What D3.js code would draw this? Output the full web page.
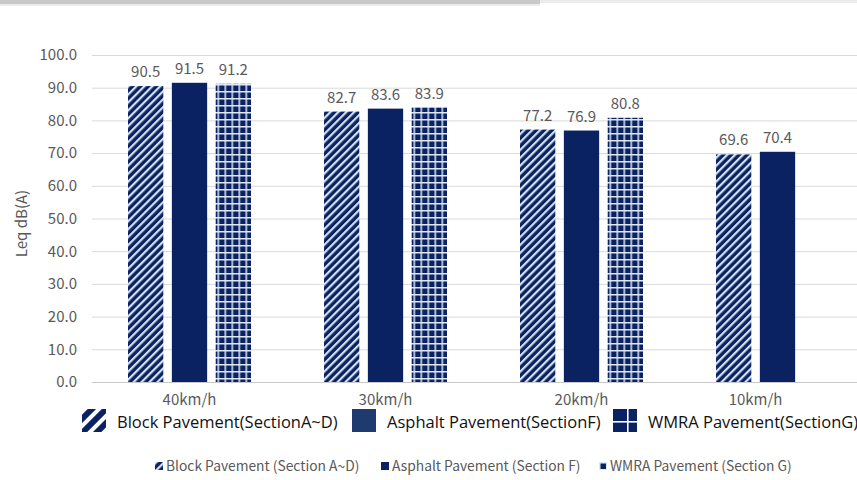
<!DOCTYPE html>
<html>
<head>
<meta charset="utf-8">
<script src="https://cdn.jsdelivr.net/npm/d3@7"></script>
<style>
  html, body { margin: 0; padding: 0; background: #fff; }
  svg { display: block; }
</style>
</head>
<body>
<svg id="chart" width="857" height="480"></svg>
<script>
// Traffic noise level by driving speed and pavement type
const speeds = ["40km/h", "30km/h", "20km/h", "10km/h"];
const seriesNames = ["Block Pavement(SectionA~D)", "Asphalt Pavement(SectionF)", "WMRA Pavement(SectionG)"];
const smallLegendNames = ["Block Pavement (Section A~D)", "Asphalt Pavement (Section F)", "WMRA Pavement (Section G)"];
const blockValues = [90.5, 82.7, 77.2, 69.6];
const asphaltValues = [91.5, 83.6, 76.9, 70.4];
const wmraValues = [91.2, 83.9, 80.8, null];
const yTicks = [0, 10, 20, 30, 40, 50, 60, 70, 80, 90, 100];
const yTitle = "Leq dB(A)";

const chartFont = "'Noto Sans CJK KR', 'Noto Sans', sans-serif";
const navy = "#0a2262";
const svg = d3.select("#chart");
const defs = svg.append("defs");

// diagonal stripe fill
const stripe = defs.append("pattern").attr("id", "stripe")
  .attr("patternUnits", "userSpaceOnUse").attr("width", 5.6).attr("height", 5.6)
  .attr("patternTransform", "rotate(45)");
stripe.append("rect").attr("width", 5.6).attr("height", 5.6).attr("fill", navy);
stripe.append("rect").attr("x", 0).attr("width", 2.2).attr("height", 5.6).attr("fill", "#d3e1f1");

// grid fill
const grid = defs.append("pattern").attr("id", "grid")
  .attr("patternUnits", "userSpaceOnUse").attr("width", 7).attr("height", 7);
grid.append("rect").attr("width", 7).attr("height", 7).attr("fill", navy);
grid.append("rect").attr("x", 0).attr("width", 1.5).attr("height", 7).attr("fill", "#dfe8f5");
grid.append("rect").attr("y", 0).attr("width", 7).attr("height", 1.5).attr("fill", "#dfe8f5");

// big legend swatch fill
const stripeBig = defs.append("pattern").attr("id", "stripeBig")
  .attr("patternUnits", "userSpaceOnUse").attr("width", 10).attr("height", 10)
  .attr("patternTransform", "rotate(45)");
stripeBig.append("rect").attr("width", 10).attr("height", 10).attr("fill", navy);
stripeBig.append("rect").attr("width", 4).attr("height", 10).attr("fill", "#ffffff");

const fills = ["url(#stripe)", navy, "url(#grid)"];

// top frame shadow
svg.append("rect").attr("x", 0).attr("y", 0).attr("width", 857).attr("height", 3).attr("fill", "#ececec");
svg.append("rect").attr("x", 0).attr("y", 0).attr("width", 540).attr("height", 4).attr("fill", "#c9c9c9");
svg.append("rect").attr("x", 0).attr("y", 4).attr("width", 540).attr("height", 2).attr("fill", "#ececec");

const plotTop = 55, plotBottom = 382, plotLeft = 92;
const y = d3.scaleLinear().domain([0, 100]).range([plotBottom, plotTop]);
const x = d3.scaleBand().domain(speeds).range([91.5, 875.5]).paddingInner(0).paddingOuter(0);
const xs = d3.scaleBand().domain([0, 1, 2]).range([-61.5, 61.5]).paddingInner(0.195).paddingOuter(0);

// gridlines and tick labels
const yAxis = d3.axisLeft(y).tickValues(yTicks).tickSize(-(857 - plotLeft + 10)).tickFormat(d3.format(".1f"));
const gAxis = svg.append("g").attr("transform", `translate(${plotLeft},0)`).call(yAxis);
gAxis.select(".domain").remove();
gAxis.selectAll(".tick line").attr("stroke", "#d9d9d9").attr("stroke-width", 1);
gAxis.selectAll(".tick text").attr("x", -15).attr("fill", "#595959")
  .style("font-family", chartFont).style("font-size", "15px");
gAxis.selectAll(".tick").filter(d => d === 0).select("line").attr("stroke", "#c8c8c8");

// y-axis title
svg.append("text").attr("transform", `translate(27,${(plotTop + plotBottom) / 2 + 5}) rotate(-90)`)
  .attr("text-anchor", "middle").attr("fill", "#595959")
  .style("font-family", chartFont).style("font-size", "15px")
  .text(yTitle);

const series = [blockValues, asphaltValues, wmraValues];
const groups = svg.selectAll("g.speed").data(speeds).join("g").attr("class", "speed")
  .attr("transform", d => `translate(${x(d) + x.bandwidth() / 2},0)`);

series.forEach((vals, si) => {
  groups.each(function(d, i) {
    const v = vals[i];
    if (v == null) return;
    const g = d3.select(this);
    g.append("rect").attr("x", xs(si)).attr("y", y(v)).attr("width", xs.bandwidth())
      .attr("height", y(0) - y(v)).attr("fill", fills[si]);
    g.append("text").attr("x", xs(si) + xs.bandwidth() / 2).attr("y", y(v) - 9)
      .attr("text-anchor", "middle").attr("fill", "#595959")
      .style("font-family", chartFont).style("font-size", "15px")
      .text(d3.format(".1f")(v));
  });
});

// category labels, centred under the bars present in each group
groups.append("text")
  .attr("x", (d, i) => {
    const present = series.map((s, si) => s[i] != null ? si : null).filter(v => v != null);
    const left = xs(present[0]);
    const right = xs(present[present.length - 1]) + xs.bandwidth();
    return (left + right) / 2;
  })
  .attr("y", 405).attr("text-anchor", "middle")
  .attr("fill", "#595959")
  .style("font-family", chartFont).style("font-size", "15px")
  .text(d => d);

// large legend
const bigLegendX = [82, 352, 613];
const bigFills = ["url(#stripeBig)", "#1f3a6e", navy];
seriesNames.forEach((name, i) => {
  const g = svg.append("g").attr("transform", `translate(${bigLegendX[i]},409)`);
  g.append("rect").attr("width", 24).attr("height", 23).attr("fill", bigFills[i]);
  if (i === 2) {
    g.append("rect").attr("x", 14).attr("y", 0).attr("width", 1.6).attr("height", 23).attr("fill", "#fff");
    g.append("rect").attr("x", 0).attr("y", 12).attr("width", 24).attr("height", 1.6).attr("fill", "#fff");
  }
  g.append("text").attr("x", 35).attr("y", 18.5).attr("fill", "#111")
    .style("font-family", "'Open Sans', 'Noto Sans', sans-serif").style("font-size", "16.5px")
    .text(name);
});

// small legend
const smallLegendX = [155, 381, 599];
const smallFills = ["url(#stripe)", navy, "url(#grid)"];
smallLegendNames.forEach((name, i) => {
  const g = svg.append("g").attr("transform", `translate(${smallLegendX[i]},462)`);
  g.append("rect").attr("width", 8).attr("height", 8).attr("fill", smallFills[i]);
  g.append("text").attr("x", 11).attr("y", 9).attr("fill", "#595959")
    .style("font-family", chartFont).style("font-size", "13.8px")
    .text(name);
});
</script>
</body>
</html>
